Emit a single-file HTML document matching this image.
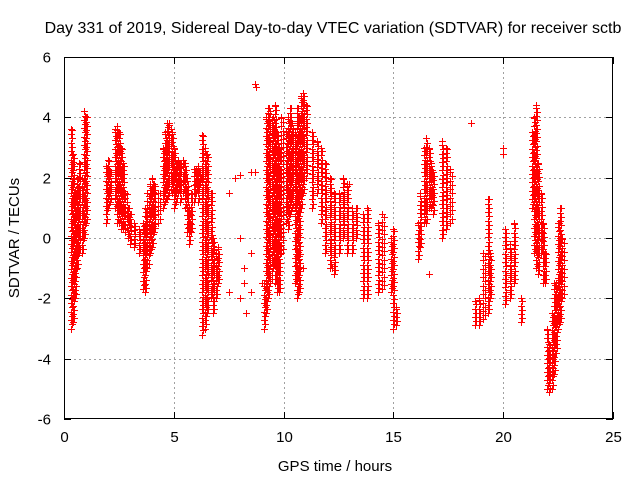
<!DOCTYPE html>
<html><head><meta charset="utf-8"><style>
body{margin:0;background:#fff}
svg{display:block;font-family:"Liberation Sans",sans-serif}
</style></head><body>
<svg id="chart" width="640" height="480" viewBox="0 0 640 480" xmlns="http://www.w3.org/2000/svg">
<rect width="640" height="480" fill="#fff"/>
<text x="333" y="33" font-size="16" text-anchor="middle">Day 331 of 2019, Sidereal Day-to-day VTEC variation (SDTVAR) for receiver sctb</text>
<g id="grid"></g><g id="marks"></g><g id="axes"></g>
<text x="335" y="471" font-size="15" text-anchor="middle">GPS time / hours</text>
<text transform="translate(19,238) rotate(-90)" font-size="15" text-anchor="middle">SDTVAR / TECUs</text>
</svg>
<script>
const xTicks=[0,5,10,15,20,25];
const yTicks=[-6,-4,-2,0,2,4,6];
const binTimes=[0.3,0.4,0.5,0.6,0.7,0.8,0.9,1.0,
1.9,2.0,2.1,2.3,2.4,2.5,2.6,2.7,2.8,2.9,3.0,3.2,3.4,
3.6,3.7,3.8,3.9,4.0,4.1,4.3,
4.5,4.6,4.7,4.8,4.9,5.0,5.1,5.2,
5.3,5.4,5.5,5.6,5.7,5.8,5.9,6.0,6.1,6.2,
6.3,6.4,6.5,6.7,6.8,6.9,7.0,
9.1,9.2,9.3,9.4,9.5,9.6,9.7,9.8,9.9,
10.1,10.2,10.3,10.4,10.5,10.6,10.7,10.8,10.9,11.0,
11.3,11.5,11.7,11.9,12.1,12.3,12.5,12.7,12.9,13.1,13.3,13.6,13.8,
14.3,14.5,14.9,15.0,15.1,
16.1,16.2,16.4,16.5,16.6,16.7,16.8,17.2,17.4,17.6,
18.7,18.9,19.1,19.3,19.4,20.1,20.3,20.5,20.8,
21.3,21.4,21.5,21.6,21.7,21.8,21.9,
22.0,22.1,22.2,22.3,22.4,22.5,22.6,22.7];
const binLow=[-3.0,-2.8,-2.0,-1.0,-0.5,-0.5,0,0.5,
0.5,1.0,1.2,1.0,0.5,0.5,0.3,0.3,0.2,0.0,-0.2,-0.3,-0.5,
-1.7,-1.8,-1.0,-0.5,-0.3,0.2,0.5,
1.0,1.2,1.3,1.5,1.5,1.0,1.2,1.5,
1.2,1.5,1.0,0.2,-0.2,0.2,1.2,1.5,1.2,1.8,
-3.2,-3.0,-2.5,-2.0,-2.5,-2.0,-1.5,
-3.0,-2.5,-2.0,-1.5,-1.0,-1.5,-1.8,-1.8,-0.5,
0.5,0.3,0.8,1.0,-1.5,-2.0,-1.8,1.0,1.5,2.0,
1.0,1.5,0.5,-0.5,-1.0,-1.2,-0.5,0.0,-0.5,-0.5,0.0,-2.0,-2.0,
-1.8,-1.7,-1.8,-3.0,-2.9,
-0.7,-0.3,0.5,0.5,1.0,1.0,0.8,0.0,0.3,0.5,
-2.9,-2.9,-2.7,-2.5,-2.0,-2.2,-2.0,-1.5,-2.8,
1.0,-0.5,-1.0,-1.2,-0.5,-1.5,-1.5,
-5.0,-5.1,-5.0,-4.5,-3.8,-3.0,-2.8,-2.0];
const binHigh=[3.6,2.8,1.5,2.0,2.5,2.0,4.2,4.0,
2.4,2.6,2.2,3.6,3.7,3.5,3.0,2.5,1.5,1.0,0.8,0.5,0.3,
0.5,1.0,1.5,1.8,2.0,1.8,1.5,
3.0,3.5,3.8,3.8,3.5,3.0,2.5,2.6,
2.5,2.6,2.5,2.0,1.0,1.5,2.3,2.3,2.4,2.2,
3.4,3.0,2.8,1.5,0.0,-0.5,-0.3,
-1.5,4.0,4.3,4.2,4.0,4.4,3.5,3.0,4.0,
3.5,4.0,4.3,3.8,3.5,4.3,4.0,4.7,4.8,4.4,
3.5,3.2,3.0,2.5,2.0,1.5,1.5,2.0,1.8,1.0,1.0,0.8,1.0,
0.5,0.8,0.0,0.3,-2.3,
0.5,1.5,3.0,3.3,3.0,2.5,2.2,3.2,3.0,2.3,
-2.1,-2.0,-0.5,1.3,-0.5,0.3,-0.2,0.5,-2.0,
3.5,4.0,4.4,2.5,1.5,0.5,-0.5,
-3.0,-3.5,-2.5,-1.5,-1.5,0.5,1.0,0.0];
const outT=[7.5,7.5,7.8,8.0,8.0,8.0,8.2,8.2,8.5,8.5,8.5,8.7,8.7,8.75,8.3,9.0,16.6,18.55,20.0,20.0,10.7,10.9,12.2,13.0];
const outV=[1.5,-1.8,2.0,2.1,0.0,-2.0,-1.0,-1.5,-0.5,-1.8,2.2,5.1,2.2,5.0,-2.5,-1.5,-1.2,3.8,2.8,3.0,-0.6,-1.0,-1.0,1.8];
const L=64,R=613,T=57,B=419;
const xs=t=>L+t/25*(R-L);
const ys=v=>B-(v+6)/12*(B-T);
const NS='http://www.w3.org/2000/svg';
function mk(tag,attrs,parent){const e=document.createElementNS(NS,tag);for(const k in attrs)e.setAttribute(k,attrs[k]);parent.appendChild(e);return e;}
const grid=document.getElementById('grid'),axes=document.getElementById('axes'),marks=document.getElementById('marks');
xTicks.forEach(t=>{
  const x=Math.round(xs(t))+0.5;
  if(t>0&&t<25){const g=mk('line',{x1:x,x2:x,y1:T,y2:B,stroke:'#a0a0a0','stroke-dasharray':'2,3','stroke-width':1},grid);
  
  }
  mk('line',{x1:x,x2:x,y1:B,y2:B-7,stroke:'#000'},axes);
  mk('line',{x1:x,x2:x,y1:T,y2:T+7,stroke:'#000'},axes);
  const l=mk('text',{x:x,y:442,'font-size':15,'text-anchor':'middle'},axes);l.textContent=t;
  
  
});
yTicks.forEach(v=>{
  const y=Math.round(ys(v))+0.5;
  if(v>-6&&v<6){const g=mk('line',{x1:L,x2:R,y1:y,y2:y,stroke:'#a0a0a0','stroke-dasharray':'2,3','stroke-width':1},grid);
  
  }
  mk('line',{x1:L,x2:L+7,y1:y,y2:y,stroke:'#000'},axes);
  mk('line',{x1:R,x2:R-7,y1:y,y2:y,stroke:'#000'},axes);
  const l=mk('text',{x:51,y:y+5,'font-size':15,'text-anchor':'end'},axes);l.textContent=v;
  
  
});
const fr=mk('rect',{x:L+0.5,y:T+0.5,width:R-L-1,height:B-T-1,fill:'none',stroke:'#000'},axes);


let d='';
function plus(t,v){const x=Math.round(xs(t)),y=Math.round(ys(v));d+=`M${x-3} ${y+0.5}h7M${x+0.5} ${y-3}v7`;}
binTimes.forEach((t,i)=>{
  const lo=binLow[i],hi=binHigh[i];
  let k=0;
  for(let v=lo;v<=hi+1e-6;v+=0.14){plus(t+(k%2?0.05:0),v);k++;}
  plus(t,hi);
});
outT.forEach((t,i)=>plus(t,outV[i]));
const p=mk('path',{d:d,stroke:'#ff0000','stroke-width':1,fill:'none'},marks);


</script>
</body></html>
